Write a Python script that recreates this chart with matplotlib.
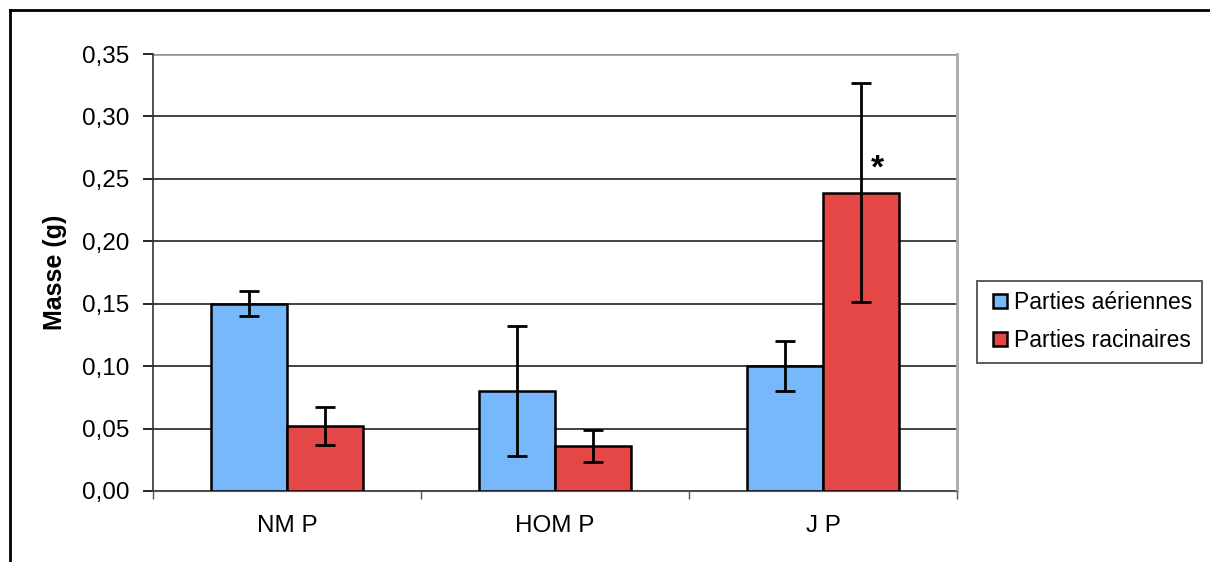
import numpy as np
import matplotlib.pyplot as plt
from matplotlib.ticker import FixedLocator, FuncFormatter
from matplotlib.lines import Line2D

plt.rcParams['font.family'] = ['Liberation Sans', 'DejaVu Sans']

groupes = ["NM P", "HOM P", "J P"]
aeriennes = [0.150, 0.080, 0.100]
err_aeriennes = [0.010, 0.052, 0.020]
racinaires = [0.052, 0.036, 0.239]
err_racinaires = [0.015, 0.013, 0.088]
etoile = (2, 0.258)  # J P, racinaires

bleu = "#77b8fb"
rouge = "#e44745"

fig = plt.figure(figsize=(12.1, 5.62), dpi=100)
ax = fig.add_axes([153 / 1210, 1 - 491 / 562, (957 - 153) / 1210, (491 - 54) / 562])

x = np.arange(len(groupes))
w = 0.284
ax.bar(x - w / 2, aeriennes, w, color=bleu, edgecolor="black", linewidth=1.8,
       yerr=err_aeriennes, capsize=7, error_kw=dict(elinewidth=2, capthick=2),
       zorder=3)
ax.bar(x + w / 2, racinaires, w, color=rouge, edgecolor="black", linewidth=1.8,
       yerr=err_racinaires, capsize=7, error_kw=dict(elinewidth=2, capthick=2),
       zorder=3)
ax.text(etoile[0] + w / 2 + 0.06, etoile[1], "*", fontsize=24, fontweight="bold",
        ha="center", va="center", zorder=4)

ax.set_xlim(-0.5, 2.5)
ax.set_ylim(0, 0.35)
ax.set_yticks(np.arange(0, 0.351, 0.05))
ax.yaxis.set_major_formatter(FuncFormatter(lambda v, p: f"{v:.2f}".replace(".", ",")))
ax.set_xticks(x)
ax.set_xticklabels(groupes)
ax.xaxis.set_minor_locator(FixedLocator([-0.5, 0.5, 1.5, 2.5]))
ax.tick_params(axis="x", which="major", length=0, labelsize=17.5, pad=17)
ax.tick_params(axis="x", which="minor", length=6, width=1, color="#555555")
ax.tick_params(axis="y", length=7, width=1.2, labelsize=17.5, pad=10)

ax.yaxis.grid(True, color="#222222", linewidth=1.2, zorder=0)
ax.set_axisbelow(True)
ax.spines["top"].set_visible(False)
ax.spines["right"].set_color("#aaaaaa")
ax.spines["right"].set_linewidth(2)
ax.spines["left"].set_color("#333333")
ax.spines["left"].set_linewidth(1.2)
ax.spines["bottom"].set_color("#555555")
ax.axhline(0.35, color="#999999", linewidth=2, zorder=1)

ax.set_ylabel("Masse (g)", fontsize=18, fontweight="bold", labelpad=11)

handles = [
    Line2D([], [], marker="s", linestyle="none", markersize=10,
           markerfacecolor=bleu, markeredgecolor="black", markeredgewidth=1.8),
    Line2D([], [], marker="s", linestyle="none", markersize=10,
           markerfacecolor=rouge, markeredgecolor="black", markeredgewidth=1.8),
]
leg = fig.legend(handles, ["Parties aériennes", "Parties racinaires"],
                 loc="upper left", bbox_to_anchor=(977 / 1210, 1 - 281 / 562),
                 fontsize=16.5, frameon=True, fancybox=False, handlelength=1.1,
                 handletextpad=0.05, borderpad=0.45, labelspacing=0.65,
                 borderaxespad=0)
leg.get_frame().set_edgecolor("#333333")
leg.get_frame().set_linewidth(1.4)

# cadre extérieur (haut et gauche)
fig.add_artist(Line2D([10 / 1210, 1], [1 - 10 / 562, 1 - 10 / 562],
                      color="black", linewidth=2))
fig.add_artist(Line2D([10 / 1210, 10 / 1210], [0, 1 - 10 / 562],
                      color="black", linewidth=2))

fig.savefig("out.png", dpi=100)
